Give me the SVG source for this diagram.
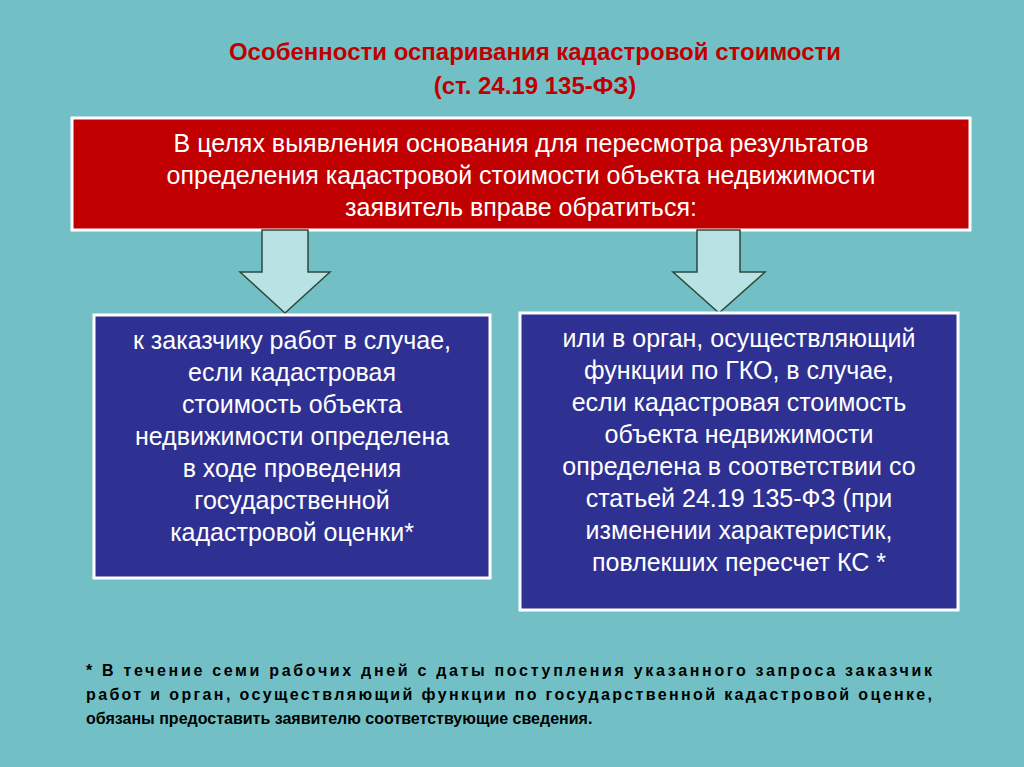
<svg xmlns="http://www.w3.org/2000/svg" width="1024" height="767" viewBox="0 0 1024 767">
<style>
.t{font-family:"Liberation Sans",Arial,sans-serif;text-anchor:middle}
.w{fill:#fff;font-size:25px}
.box{stroke:#fff;stroke-width:3}
.arr{fill:#b9e2e4;stroke:#2d4a3a;stroke-width:1.5}
</style>
<rect width="1024" height="767" fill="#72c0c6"/>
<g id="title" class="t" fill="#c00000" font-weight="bold" font-size="24">
<text x="535" y="60">Особенности оспаривания кадастровой стоимости</text>
<text x="535" y="94">(ст. 24.19 135-ФЗ)</text>
</g>
<g id="top">
<rect class="box" x="72" y="118" width="898" height="112" fill="#c00000"/>
<g class="t w">
<text x="521" y="152">В целях выявления основания для пересмотра результатов</text>
<text x="521" y="184">определения кадастровой стоимости объекта недвижимости</text>
<text x="521" y="216">заявитель вправе обратиться:</text>
</g>
</g>
<g id="connectors">
<polygon class="arr" points="262,230 308,230 308,272 330,272 285,313 240,272 262,272"/>
<polygon class="arr" points="697,230 740,230 740,272 765,272 719,313 673,272 697,272"/>
</g>
<g id="left">
<rect class="box" x="94" y="315" width="396" height="263" fill="#2e3192"/>
<g class="t w">
<text x="292" y="349">к заказчику работ в случае,</text>
<text x="292" y="381">если кадастровая</text>
<text x="292" y="413">стоимость объекта</text>
<text x="292" y="445">недвижимости определена</text>
<text x="292" y="477">в ходе проведения</text>
<text x="292" y="509">государственной</text>
<text x="292" y="541">кадастровой оценки*</text>
</g>
</g>
<g id="right">
<rect class="box" x="520" y="313" width="438" height="297" fill="#2e3192"/>
<g class="t w">
<text x="739" y="347">или в орган, осуществляющий</text>
<text x="739" y="379">функции по ГКО, в случае,</text>
<text x="739" y="411">если кадастровая стоимость</text>
<text x="739" y="443">объекта недвижимости</text>
<text x="739" y="475">определена в соответствии со</text>
<text x="739" y="507">статьей 24.19 135-ФЗ (при</text>
<text x="739" y="539">изменении характеристик,</text>
<text x="739" y="571">повлекших пересчет КС *</text>
</g>
</g>
<g id="note" font-family="Liberation Sans,Arial,sans-serif" font-weight="bold" font-size="16" fill="#000">
<text x="86" y="676" textLength="846" lengthAdjust="spacing">* В течение семи рабочих дней с даты поступления указанного запроса заказчик</text>
<text x="86" y="700" textLength="846" lengthAdjust="spacing">работ и орган, осуществляющий функции по государственной кадастровой оценке,</text>
<text x="86" y="724">обязаны предоставить заявителю соответствующие сведения.</text>
</g>
</svg>
